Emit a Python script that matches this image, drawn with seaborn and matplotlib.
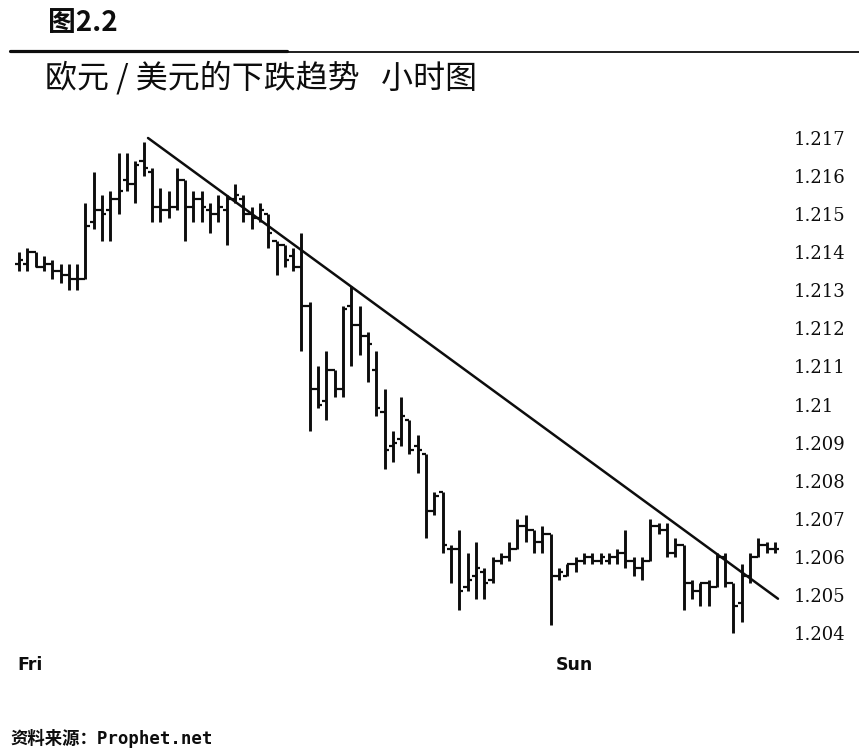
import numpy as np
import matplotlib
matplotlib.use('Agg')
import matplotlib.pyplot as plt
from matplotlib.lines import Line2D
import seaborn as sns

# ---- data (EUR/USD hourly OHLC) ----
high = [1.2140, 1.2141, 1.2140, 1.2139, 1.2138, 1.2137, 1.2137, 1.2137, 1.2153, 1.2161,
        1.2155, 1.2156, 1.2166, 1.2166, 1.2164, 1.2169, 1.2162, 1.2157, 1.2156, 1.2162,
        1.2159, 1.2156, 1.2156, 1.2153, 1.2155, 1.2155, 1.2158, 1.2155, 1.2152, 1.2153,
        1.2150, 1.2143, 1.2142, 1.2141, 1.2145, 1.2127, 1.2110, 1.2114, 1.2109, 1.2126,
        1.2131, 1.2126, 1.2119, 1.2114, 1.2104, 1.2093, 1.2102, 1.2096, 1.2092, 1.2087,
        1.2077, 1.2077, 1.2063, 1.2067, 1.2061, 1.2064, 1.2057, 1.2060, 1.2061, 1.2064,
        1.2070, 1.2071, 1.2067, 1.2068, 1.2066, 1.2057, 1.2058, 1.2060, 1.2061, 1.2061,
        1.2061, 1.2061, 1.2062, 1.2067, 1.2060, 1.2060, 1.2070, 1.2069, 1.2069, 1.2065,
        1.2063, 1.2054, 1.2053, 1.2054, 1.2061, 1.2061, 1.2053, 1.2058, 1.2061, 1.2065,
        1.2064, 1.2064]
low = [1.2135, 1.2135, 1.2136, 1.2135, 1.2133, 1.2132, 1.2130, 1.2130, 1.2133, 1.2146,
       1.2143, 1.2143, 1.2150, 1.2156, 1.2153, 1.2160, 1.2148, 1.2148, 1.2149, 1.2151,
       1.2143, 1.2148, 1.2148, 1.2145, 1.2148, 1.2142, 1.2153, 1.2148, 1.2146, 1.2148,
       1.2141, 1.2134, 1.2136, 1.2135, 1.2114, 1.2093, 1.2099, 1.2096, 1.2102, 1.2102,
       1.2110, 1.2113, 1.2106, 1.2097, 1.2083, 1.2085, 1.2089, 1.2087, 1.2082, 1.2065,
       1.2071, 1.2061, 1.2053, 1.2046, 1.2051, 1.2049, 1.2049, 1.2053, 1.2058, 1.2059,
       1.2062, 1.2064, 1.2061, 1.2061, 1.2042, 1.2054, 1.2055, 1.2056, 1.2058, 1.2058,
       1.2058, 1.2058, 1.2058, 1.2057, 1.2055, 1.2054, 1.2059, 1.2066, 1.2060, 1.2060,
       1.2046, 1.2049, 1.2047, 1.2047, 1.2052, 1.2052, 1.2040, 1.2043, 1.2053, 1.2060,
       1.2061, 1.2061]
open_ = [1.2137, 1.2137, 1.2140, 1.2136, 1.2137, 1.2135, 1.2134, 1.2133, 1.2133, 1.2148,
         1.2151, 1.2151, 1.2154, 1.2159, 1.2158, 1.2164, 1.2161, 1.2152, 1.2151, 1.2152,
         1.2159, 1.2152, 1.2154, 1.2151, 1.2150, 1.2151, 1.2154, 1.2154, 1.2150, 1.2149,
         1.2150, 1.2143, 1.2142, 1.2139, 1.2136, 1.2126, 1.2104, 1.2101, 1.2109, 1.2104,
         1.2126, 1.2121, 1.2118, 1.2109, 1.2098, 1.2089, 1.2091, 1.2096, 1.2089, 1.2087,
         1.2072, 1.2077, 1.2062, 1.2062, 1.2052, 1.2055, 1.2056, 1.2054, 1.2059, 1.2060,
         1.2062, 1.2068, 1.2067, 1.2064, 1.2066, 1.2055, 1.2055, 1.2058, 1.2059, 1.2060,
         1.2059, 1.2059, 1.2060, 1.2061, 1.2059, 1.2057, 1.2059, 1.2068, 1.2067, 1.2061,
         1.2063, 1.2053, 1.2051, 1.2053, 1.2052, 1.2060, 1.2053, 1.2048, 1.2055, 1.2060,
         1.2063, 1.2062]
close = [1.2138, 1.2140, 1.2136, 1.2137, 1.2135, 1.2134, 1.2133, 1.2133, 1.2147, 1.2151,
         1.2150, 1.2154, 1.2156, 1.2158, 1.2163, 1.2162, 1.2152, 1.2151, 1.2152, 1.2159,
         1.2152, 1.2154, 1.2152, 1.2150, 1.2152, 1.2154, 1.2155, 1.2150, 1.2149, 1.2151,
         1.2145, 1.2142, 1.2138, 1.2136, 1.2126, 1.2104, 1.2100, 1.2109, 1.2104, 1.2125,
         1.2121, 1.2118, 1.2116, 1.2099, 1.2088, 1.2090, 1.2097, 1.2088, 1.2088, 1.2072,
         1.2076, 1.2063, 1.2062, 1.2051, 1.2054, 1.2057, 1.2053, 1.2059, 1.2060, 1.2062,
         1.2068, 1.2067, 1.2064, 1.2066, 1.2055, 1.2056, 1.2058, 1.2059, 1.2060, 1.2059,
         1.2060, 1.2060, 1.2061, 1.2059, 1.2057, 1.2059, 1.2068, 1.2067, 1.2061, 1.2063,
         1.2053, 1.2051, 1.2053, 1.2052, 1.2060, 1.2053, 1.2047, 1.2055, 1.2060, 1.2063,
         1.2062, 1.2062]

trend_x = [15.53, 91.36]
trend_y = [1.2170, 1.2049]

ytick_values = [1.204, 1.205, 1.206, 1.207, 1.208, 1.209, 1.210,
                1.211, 1.212, 1.213, 1.214, 1.215, 1.216, 1.217]
ytick_labels = ['1.204', '1.205', '1.206', '1.207', '1.208', '1.209', '1.21',
                '1.211', '1.212', '1.213', '1.214', '1.215', '1.216', '1.217']
day_positions = [1.3, 66.8]
day_labels = ['Fri', 'Sun']

title_fig = '图2.2'
title_main = '欧元 / 美元的下跌趋势   小时图'
source_text = '资料来源：Prophet.net'

# ---- style ----
sns.set_theme(style='white')
plt.rcParams['font.family'] = ['DejaVu Sans', 'Noto Sans CJK SC']

W, H = 859, 753
fig = plt.figure(figsize=(W / 100, H / 100), dpi=100)
fig.patch.set_facecolor('white')

ax_left, ax_right, ax_top, ax_bot = 10, 785, 130, 645
ax = fig.add_axes([ax_left / W, (H - ax_bot) / H,
                   (ax_right - ax_left) / W, (ax_bot - ax_top) / H])
ax.set_facecolor('white')

px_per_bar = (775 - 19) / 91.0
x0 = 19
px_per_unit = (633 - 138) / 0.013
ax.set_xlim((ax_left - x0) / px_per_bar, (ax_right - x0) / px_per_bar)
ax.set_ylim(1.204 - (ax_bot - 633) / px_per_unit, 1.217 + (138 - ax_top) / px_per_unit)

ink = '#0d0d0d'
idx = np.arange(len(high))
ax.vlines(idx, low, high, color=ink, lw=2.1)
ax.hlines(open_, idx - 0.5, idx, color=ink, lw=1.6)
ax.hlines(close, idx, idx + 0.5, color=ink, lw=1.6)

sns.lineplot(x=trend_x, y=trend_y, ax=ax, color=ink, lw=1.8)

ax.yaxis.tick_right()
ax.set_yticks(ytick_values, ytick_labels)
ax.tick_params(axis='y', length=0, pad=6, labelsize=13, colors=ink)
for lab in ax.get_yticklabels():
    lab.set_fontfamily('DejaVu Serif')
ax.set_xticks(day_positions, day_labels)
ax.tick_params(axis='x', length=0, pad=8, labelsize=12.5, colors=ink)
for lab in ax.get_xticklabels():
    lab.set_fontweight('bold')
for s in ax.spines.values():
    s.set_visible(False)
ax.grid(False)

# ---- header / footer ----
fig.text(48 / W, 1 - 23 / H, title_fig, fontsize=20, fontweight='bold',
         family=['Noto Sans CJK SC', 'DejaVu Sans'], va='center', ha='left', color=ink)
fig.add_artist(Line2D([10 / W, 287 / W], [1 - 51 / H] * 2, lw=2.3, color=ink))
fig.add_artist(Line2D([287 / W, 1.0], [1 - 51.5 / H] * 2, lw=1.3, color=ink))
fig.text(45 / W, 1 - 78 / H, title_main, fontsize=23,
         family=['Noto Sans CJK SC', 'DejaVu Sans'], va='center', ha='left', color=ink)
fig.text(10 / W, 1 - 738 / H, source_text, fontsize=12.5, fontweight='bold',
         family=['DejaVu Sans Mono', 'Noto Sans CJK SC'], va='center', ha='left', color=ink)

fig.savefig('out.png', dpi=100, facecolor='white')
